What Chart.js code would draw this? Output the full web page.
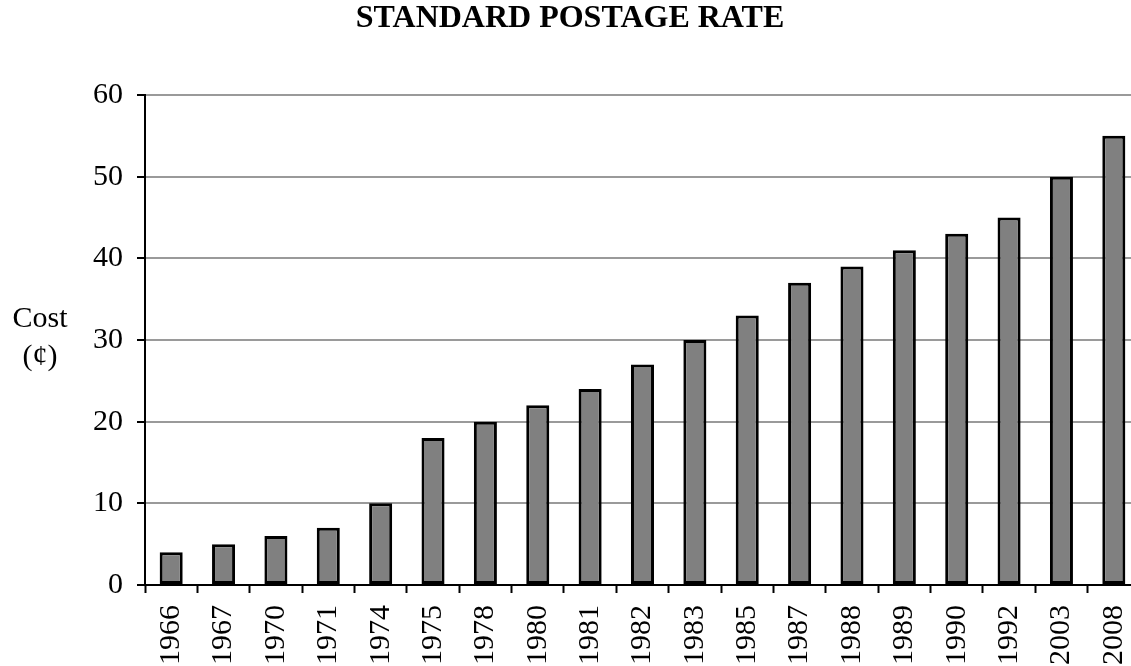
<!DOCTYPE html>
<html>
<head>
<meta charset="utf-8">
<style>
  html, body { margin: 0; padding: 0; background: #fff; overflow: hidden; }
  #wrap { width: 1140px; height: 666px; }
</style>
<script src="https://cdn.jsdelivr.net/npm/chart.js@4/dist/chart.umd.min.js"></script>
</head>
<body>
<div id="wrap"><canvas id="c" width="1140" height="666"></canvas></div>
<script>
const years = ['1966','1967','1970','1971','1974','1975','1978','1980','1981','1982','1983','1985','1987','1988','1989','1990','1992','2003','2008'];
const costCents = [4,5,6,7,10,18,20,22,24,27,30,33,37,39,41,43,45,50,55];
const yTicks = [0,10,20,30,40,50,60];
const yTitleLines = ['Cost', '(\u00a2)'];

const serif = '"Liberation Serif", "Times New Roman", serif';

// Horizontal two-line axis title to the left of the value axis
const yTitlePlugin = {
  id: 'yTitle',
  afterDraw(chart) {
    const ctx = chart.ctx;
    const area = chart.chartArea;
    const cy = (area.top + area.bottom) / 2;
    ctx.save();
    ctx.fillStyle = '#000';
    ctx.font = '30px ' + serif;
    ctx.textAlign = 'center';
    ctx.textBaseline = 'middle';
    ctx.fillText(yTitleLines[0], 40, cy - 21);
    ctx.fillText(yTitleLines[1], 40, cy + 17);
    ctx.restore();
  }
};

new Chart(document.getElementById('c'), {
  type: 'bar',
  data: {
    labels: years,
    datasets: [{
      data: costCents,
      backgroundColor: '#808080',
      borderColor: '#000',
      borderWidth: 3,
      borderSkipped: false,
      barPercentage: 0.44,
      categoryPercentage: 1.0
    }]
  },
  options: {
    responsive: false,
    animation: false,
    layout: { padding: { top: 0, right: 0, left: 0, bottom: 0 } },
    plugins: {
      legend: { display: false },
      tooltip: { enabled: false },
      title: {
        display: true,
        text: 'STANDARD POSTAGE RATE',
        color: '#000',
        font: { family: serif, size: 32, weight: 'bold', lineHeight: 1.0 },
        padding: { top: 3, bottom: 60 }
      }
    },
    scales: {
      x: {
        grid: {
          offset: true,
          drawOnChartArea: false,
          tickLength: 8,
          tickColor: '#000',
          tickWidth: 2
        },
        border: { color: '#000', width: 2 },
        ticks: {
          color: '#000',
          font: { family: serif, size: 30 },
          minRotation: 90,
          maxRotation: 90,
          padding: 12,
          autoSkip: false
        },
        afterFit(scale) {
          scale.height = 81;
          scale.paddingLeft = 0;
          scale.paddingRight = 0;
        }
      },
      y: {
        min: 0,
        max: 60,
        afterBuildTicks(scale) { scale.ticks = yTicks.map(v => ({ value: v })); },
        grid: {
          color: '#9a9a9a',
          lineWidth: 2,
          tickLength: 8,
          tickColor: '#000',
          tickWidth: 2
        },
        border: { color: '#000', width: 2 },
        ticks: {
          color: '#000',
          font: { family: serif, size: 30 },
          padding: 14
        },
        afterFit(scale) { scale.width = 145; }
      }
    }
  },
  plugins: [yTitlePlugin]
});
</script>
</body>
</html>
